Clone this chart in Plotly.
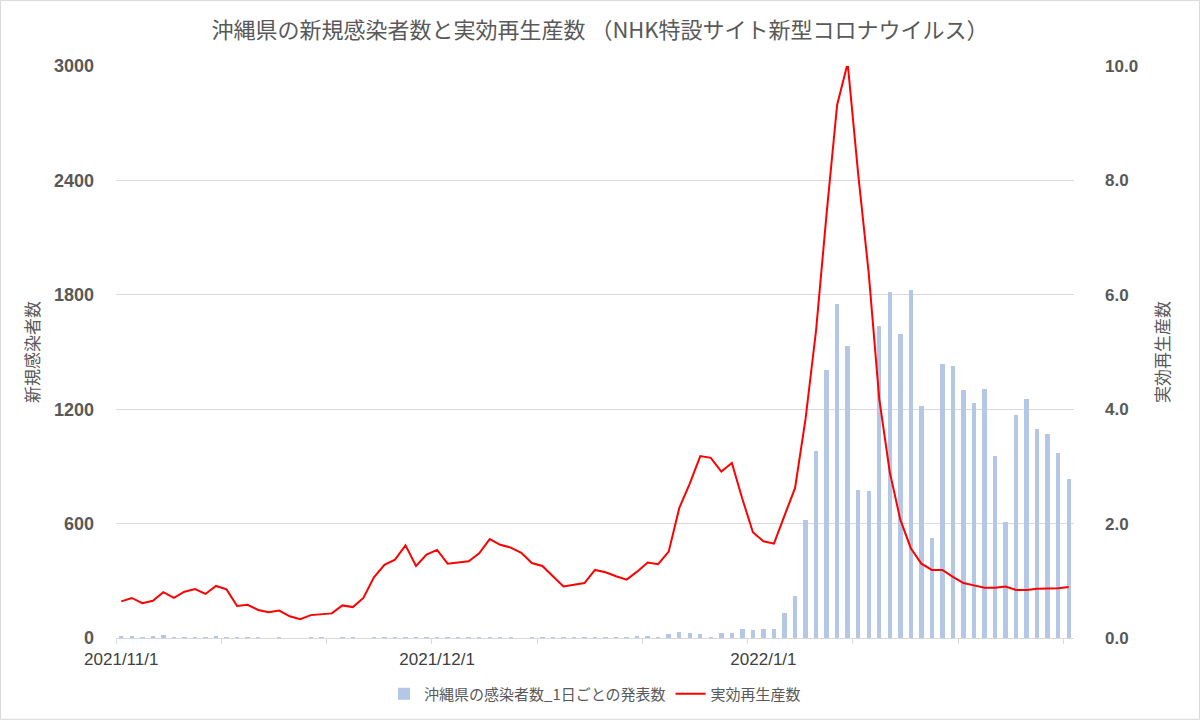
import pandas as pd
import plotly.graph_objects as go

# daily categories 2021/11/1 .. 2022/1/30
dates = pd.date_range('2021-11-01', '2022-01-30', freq='D')

cases = [6, 9, 5, 6, 16, 5, 5, 5, 5, 6,
         5, 5, 5, 5, 0, 4, 0, 0, 4, 5,
         0, 4, 4, 0, 3, 4, 5, 5, 5, 5,
         5, 5, 5, 5, 5, 5, 5, 5, 0, 4,
         5, 5, 5, 5, 5, 5, 5, 5, 5, 6,
         8, 3, 21, 30, 24, 19, 3, 24, 24, 45,
         42, 49, 49, 131, 222, 620, 979, 1407, 1754, 1531,
         776, 772, 1639, 1814, 1593, 1827, 1219, 526, 1438, 1428,
         1303, 1233, 1308, 952, 608, 1169, 1254, 1094, 1070, 972,
         836]

rt = [0.64, 0.70, 0.61, 0.65, 0.80, 0.70, 0.81, 0.855, 0.77, 0.91,
      0.85, 0.56, 0.58, 0.49, 0.45, 0.48, 0.38, 0.33, 0.40, 0.42,
      0.43, 0.57, 0.54, 0.70, 1.06, 1.28, 1.37, 1.62, 1.26, 1.46,
      1.54, 1.30, 1.32, 1.34, 1.48, 1.73, 1.63, 1.58, 1.49, 1.31,
      1.26, 1.08, 0.90, 0.93, 0.96, 1.19, 1.15, 1.08, 1.02, 1.16,
      1.32, 1.29, 1.51, 2.27, 2.70, 3.18, 3.15, 2.91, 3.06, 2.43,
      1.85, 1.69, 1.65, 2.14, 2.62, 3.83, 5.38, 7.42, 9.32, 10.05,
      8.11, 6.38, 4.18, 2.90, 2.07, 1.57, 1.30, 1.19, 1.19, 1.07,
      0.96, 0.92, 0.88, 0.88, 0.90, 0.84, 0.84, 0.86, 0.86, 0.87,
      0.89]

tick_dates = ['2021-11-01', '2021-12-01', '2022-01-01']
tick_text = ['2021/11/1', '2021/12/1', '2022/1/1']

JP = 'Noto Sans CJK JP'
GRAY = '#595959'
DAY = 86400000

fig = go.Figure()

fig.add_trace(go.Bar(
    x=dates, y=cases,
    name='沖縄県の感染者数_1日ごとの発表数',
    marker=dict(color='#b4c7e7', line=dict(width=0)),
    width=0.42 * DAY,
))

fig.add_trace(go.Scatter(
    x=dates, y=rt,
    name='実効再生産数',
    mode='lines',
    line=dict(color='#ff0000', width=2),
    yaxis='y2',
))

# plot area in pixels: 116..1074 x 66..639
ml, mr, mt, mb = 116, 126, 66, 82
pw = 1200 - ml - mr
ph = 721 - mt - mb

fig.update_layout(
    width=1200, height=721,
    margin=dict(l=ml, r=mr, t=mt, b=mb),
    paper_bgcolor='white', plot_bgcolor='white',
    font=dict(family=JP, color=GRAY),
    title=dict(
        text='沖縄県の新規感染者数と実効再生産数 （NHK特設サイト新型コロナウイルス）',
        x=0.5, xref='container', xanchor='center',
        y=1 - 30 / 721, yanchor='middle',
        font=dict(family=JP, size=22, color=GRAY),
    ),
    xaxis=dict(
        type='date',
        range=['2021-10-31 12:00', '2022-01-30 12:00'],
        tickvals=tick_dates, ticktext=tick_text,
        ticks='', showgrid=False,
        showline=True, linecolor='#d9d9d9', linewidth=1,
        tickfont=dict(family='Liberation Sans', size=17, color='#404040'),
        ticklabelstandoff=6,
        minor=dict(tick0='2021-10-31 12:00', dtick=10 * DAY, ticks='outside',
                   ticklen=5, tickcolor='#d9d9d9', showgrid=False),
    ),
    yaxis=dict(
        range=[0, 3000], dtick=600,
        gridcolor='#d9d9d9', gridwidth=1,
        zeroline=False,
        tickfont=dict(family='Liberation Sans', size=18, color=GRAY, weight='bold'),
        ticklabelstandoff=21,
        title=dict(text='新規感染者数', font=dict(family=JP, size=17, color=GRAY), standoff=10),
    ),
    yaxis2=dict(
        range=[0, 10], dtick=2, tickformat='.1f',
        overlaying='y', side='right', showgrid=False, zeroline=False,
        tickfont=dict(family='Liberation Sans', size=17, color=GRAY, weight='bold'),
        ticklabelstandoff=30,
        title=dict(text='実効再生産数', font=dict(family=JP, size=17, color=GRAY), standoff=20),
    ),
    legend=dict(
        orientation='h', x=0.5, xanchor='center', y=-0.096, yanchor='middle',
        font=dict(family=JP, size=15, color=GRAY),
        itemwidth=30,
    ),
    bargap=0,
    shapes=[dict(type='rect', xref='paper', yref='paper',
                 x0=-(ml - 0.5) / pw, x1=1 + (mr - 0.5) / pw,
                 y0=-(mb - 0.5) / ph, y1=1 + (mt - 0.5) / ph,
                 line=dict(color='#d9d9d9', width=1), layer='below')],
)

# drop the page's default body margin so the figure sits at 0,0
fig.write_html('out.html', config={'displayModeBar': False},
               post_script="document.body.style.margin='0';")
